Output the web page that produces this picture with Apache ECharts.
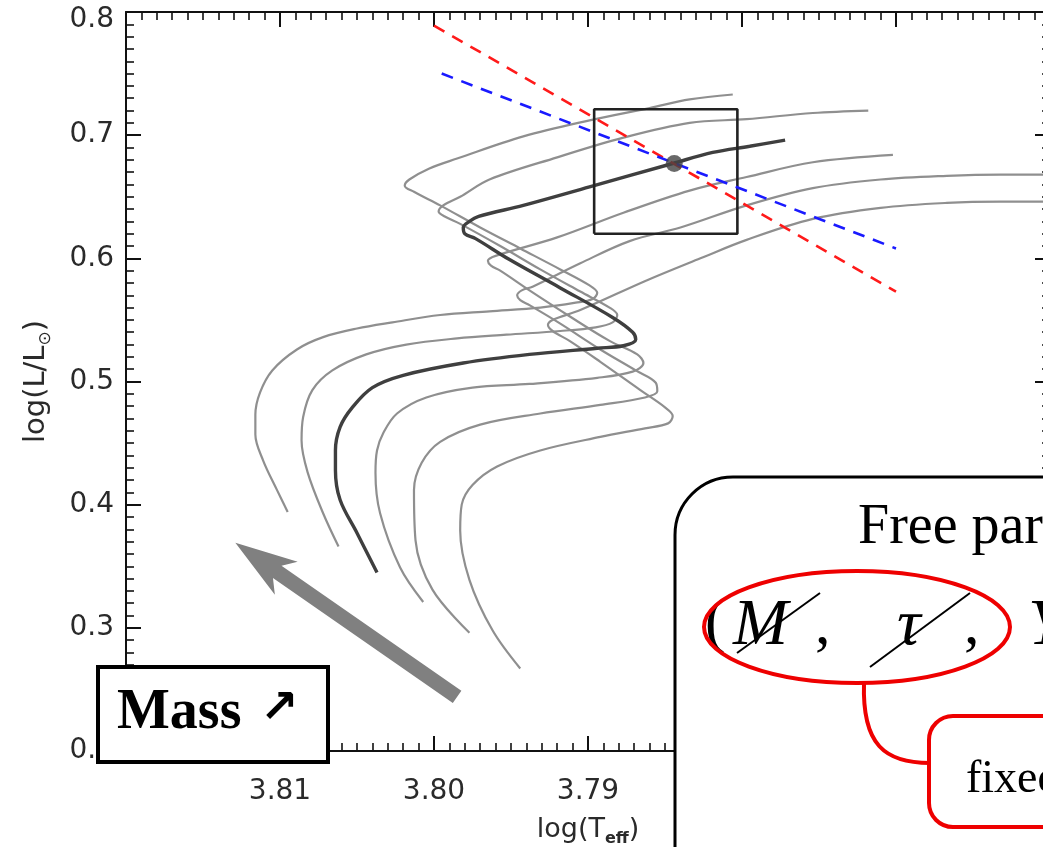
<!DOCTYPE html>
<html>
<head>
<meta charset="utf-8">
<script src="https://cdn.jsdelivr.net/npm/echarts@6/dist/echarts.min.js"></script>
<style>
  html, body { margin: 0; padding: 0; background: #fff; }
  #chart { width: 1043px; height: 847px; }
</style>
</head>
<body>
<div id="chart"></div>
<script>
// Evolutionary tracks in the HR diagram: [log Teff, log L/Lsun]
const track1 = [[3.8095,0.394],[3.8102,0.412],[3.8111,0.436],[3.8116,0.457],[3.8116,0.473],[3.8113,0.491],[3.8105,0.509],[3.8089,0.526],[3.8072,0.536],[3.8050,0.543],[3.8027,0.548],[3.7996,0.554],[3.7964,0.557],[3.7931,0.560],[3.7908,0.564],[3.7897,0.567],[3.7894,0.572],[3.7899,0.578],[3.7918,0.591],[3.7944,0.608],[3.7970,0.625],[3.7996,0.643],[3.8013,0.654],[3.8019,0.659],[3.8016,0.664],[3.8003,0.673],[3.7985,0.681],[3.7942,0.699],[3.7899,0.712],[3.7860,0.722],[3.7834,0.729],[3.7806,0.733]];
const track2 = [[3.8062,0.366],[3.8072,0.393],[3.8082,0.426],[3.8086,0.452],[3.8085,0.471],[3.8079,0.493],[3.8066,0.509],[3.8044,0.522],[3.8018,0.530],[3.7985,0.535],[3.7953,0.538],[3.7918,0.541],[3.7895,0.544],[3.7884,0.548],[3.7881,0.554],[3.7886,0.560],[3.7905,0.573],[3.7931,0.591],[3.7957,0.610],[3.7983,0.628],[3.7993,0.634],[3.7997,0.638],[3.7994,0.643],[3.7983,0.650],[3.7964,0.664],[3.7920,0.682],[3.7877,0.698],[3.7834,0.710],[3.7797,0.713],[3.7754,0.718],[3.7718,0.720]];
const track3 = [[3.8037,0.345],[3.8050,0.377],[3.8061,0.404],[3.8064,0.428],[3.8064,0.444],[3.8061,0.463],[3.8053,0.479],[3.8040,0.495],[3.8020,0.505],[3.7981,0.515],[3.7938,0.522],[3.7894,0.527],[3.7877,0.529],[3.7869,0.534],[3.7871,0.540],[3.7884,0.552],[3.7918,0.576],[3.7951,0.599],[3.7973,0.616],[3.7980,0.620],[3.7981,0.625],[3.7977,0.630],[3.7971,0.634],[3.7942,0.643],[3.7899,0.658],[3.7845,0.677],[3.7819,0.686],[3.7795,0.691],[3.7772,0.696]];
const track4 = [[3.8007,0.321],[3.8022,0.349],[3.8035,0.393],[3.8038,0.426],[3.8037,0.444],[3.8033,0.458],[3.8024,0.474],[3.8005,0.487],[3.7975,0.495],[3.7938,0.498],[3.7894,0.503],[3.7871,0.508],[3.7864,0.515],[3.7868,0.522],[3.7886,0.533],[3.7912,0.553],[3.7938,0.574],[3.7957,0.590],[3.7963,0.594],[3.7965,0.598],[3.7960,0.602],[3.7920,0.617],[3.7877,0.637],[3.7834,0.655],[3.7797,0.666],[3.7754,0.678],[3.7702,0.684]];
const track5 = [[3.7977,0.296],[3.8001,0.331],[3.8012,0.371],[3.8013,0.412],[3.8008,0.434],[3.7996,0.451],[3.7970,0.465],[3.7931,0.474],[3.7892,0.481],[3.7863,0.487],[3.7855,0.492],[3.7856,0.499],[3.7869,0.509],[3.7892,0.526],[3.7918,0.547],[3.7938,0.562],[3.7944,0.566],[3.7946,0.570],[3.7943,0.574],[3.7936,0.577],[3.7905,0.596],[3.7873,0.614],[3.7840,0.625],[3.7797,0.643],[3.7754,0.657],[3.7710,0.664],[3.7667,0.667],[3.7632,0.668],[3.7600,0.668]];
const track6 = [[3.7944,0.267],[3.7962,0.298],[3.7977,0.339],[3.7983,0.379],[3.7982,0.400],[3.7975,0.416],[3.7959,0.431],[3.7931,0.444],[3.7892,0.455],[3.7863,0.462],[3.7848,0.466],[3.7845,0.472],[3.7850,0.479],[3.7866,0.493],[3.7892,0.516],[3.7912,0.533],[3.7923,0.541],[3.7926,0.546],[3.7923,0.550],[3.7905,0.558],[3.7862,0.582],[3.7827,0.600],[3.7797,0.615],[3.7754,0.632],[3.7710,0.641],[3.7667,0.645],[3.7632,0.646],[3.7600,0.646]];

// Observed star and its error box
const starPoint = [[3.7844, 0.677]];
const errorBox = [[3.7896,0.620],[3.7803,0.620],[3.7803,0.721],[3.7896,0.721],[3.7896,0.620]];

// Constraint lines
const redLine = [[3.8000,0.789],[3.7700,0.573]];
const blueLine = [[3.7995,0.750],[3.7700,0.608]];

// Mass-direction arrow: [tail x, tail y, tip x, tip y]
const massArrow = [[3.7985, 0.244, 3.8129, 0.369]];

// Axis ranges
const xRange = [3.76, 3.82];
const yRange = [0.2, 0.8];

const grayTracks = [track1, track2, track4, track5, track6];

const tickFont = '"DejaVu Sans", sans-serif';
const serif = '"Liberation Serif", "DejaVu Serif", serif';
const tickColor = '#2a2a2a';

function baseX(show) {
  return {
    type: 'value', min: xRange[0], max: xRange[1], interval: 0.01, inverse: true,
    axisLine: { show: true, onZero: false, lineStyle: { color: '#111', width: 2 } },
    axisTick: { show: true, inside: true, length: 15, lineStyle: { color: '#111', width: 2 } },
    minorTick: { show: true, splitNumber: 10, length: 8, lineStyle: { color: '#111', width: 1.6 } },
    splitLine: { show: false }, minorSplitLine: { show: false },
    axisLabel: show ? {
      show: true, fontFamily: tickFont, fontSize: 28, color: tickColor, margin: 27,
      showMaxLabel: false, showMinLabel: false, formatter: v => v.toFixed(2)
    } : { show: false }
  };
}
function baseY(show) {
  return {
    type: 'value', min: yRange[0], max: yRange[1], interval: 0.1,
    axisLine: { show: true, onZero: false, lineStyle: { color: '#111', width: 2 } },
    axisTick: { show: true, inside: true, length: 15, lineStyle: { color: '#111', width: 2 } },
    minorTick: { show: true, splitNumber: 10, length: 8, lineStyle: { color: '#111', width: 1.6 } },
    splitLine: { show: false }, minorSplitLine: { show: false },
    axisLabel: show ? {
      show: true, fontFamily: tickFont, fontSize: 28, color: tickColor, margin: 12,
      // the top label sits a little lower so it stays inside the page
      formatter: v => (v >= 0.79 ? '{top|' + v.toFixed(1) + '}' : v.toFixed(1)),
      rich: { top: { fontFamily: tickFont, fontSize: 28, color: tickColor, padding: [16, 0, 0, 0] } }
    } : { show: false }
  };
}

const xBottom = Object.assign(baseX(true), {
  position: 'bottom',
  name: '{a|log(T}{s|eff}{a|)}', nameLocation: 'middle', nameGap: 62,
  nameTextStyle: {
    rich: {
      a: { fontFamily: tickFont, fontSize: 27, color: tickColor, lineHeight: 34 },
      s: { fontFamily: tickFont, fontSize: 16, fontWeight: 'bold', color: tickColor, lineHeight: 34, verticalAlign: 'bottom' }
    }
  }
});
const xTop = Object.assign(baseX(false), { position: 'top' });
const yLeft = Object.assign(baseY(true), {
  position: 'left',
  name: '{a|log(L/L}{s|⊙}{a|)}', nameLocation: 'middle', nameGap: 72,
  nameTextStyle: {
    rich: {
      a: { fontFamily: tickFont, fontSize: 29, color: tickColor, lineHeight: 36 },
      s: { fontFamily: tickFont, fontSize: 17, color: tickColor, lineHeight: 36, verticalAlign: 'bottom' }
    }
  }
});
const yRight = Object.assign(baseY(false), { position: 'right' });

function renderArrow(params, api) {
  const a = api.coord([api.value(0), api.value(1)]);
  const b = api.coord([api.value(2), api.value(3)]);
  const dx = b[0] - a[0], dy = b[1] - a[1];
  const L = Math.hypot(dx, dy);
  const ux = dx / L, uy = dy / L, nx = -uy, ny = ux;
  const sw = 7.5, hw = 20, hl = 62, notch = 11;
  const P = (t, s) => [b[0] - ux * t + nx * s, b[1] - uy * t + ny * s];
  return {
    type: 'polygon',
    shape: { points: [
      [a[0] + nx * sw, a[1] + ny * sw], P(hl - notch, sw), P(hl, hw), [b[0], b[1]],
      P(hl, -hw), P(hl - notch, -sw), [a[0] - nx * sw, a[1] - ny * sw]
    ] },
    style: { fill: '#808080' }
  };
}

const series = [];
grayTracks.forEach((t, i) => series.push({
  name: 'track' + i, type: 'line', data: t, showSymbol: false, smooth: 0.35,
  lineStyle: { color: '#8f8f8f', width: 2.2 }, z: 3, silent: true
}));
series.push({
  name: 'track-best', type: 'line', data: track3, showSymbol: false, smooth: 0.35,
  lineStyle: { color: '#3f3f3f', width: 3.4 }, z: 4, silent: true
});
series.push({
  name: 'box', type: 'line', data: errorBox, showSymbol: false,
  lineStyle: { color: '#222', width: 2.6 }, z: 5, silent: true
});
series.push({
  name: 'red', type: 'line', data: redLine, showSymbol: false,
  lineStyle: { color: '#ff1a1a', width: 2.6, type: [12, 9] }, z: 6, silent: true
});
series.push({
  name: 'blue', type: 'line', data: blueLine, showSymbol: false,
  lineStyle: { color: '#1a1aff', width: 2.6, type: [12, 9] }, z: 6, silent: true
});
series.push({
  name: 'star', type: 'scatter', data: starPoint, symbolSize: 17,
  itemStyle: { color: '#444' }, z: 7, silent: true
});
series.push({
  name: 'massArrow', type: 'custom', data: massArrow, renderItem: renderArrow,
  encode: { x: [0, 2], y: [1, 3] }, z: 8, silent: true
});

const RED = '#ee0000';
const graphic = [
  // Mass label box
  { type: 'rect', z: 100, shape: { x: 98, y: 667, width: 230, height: 95 },
    style: { fill: '#fff', stroke: '#000', lineWidth: 4 } },
  { type: 'text', z: 101, style: { x: 117, y: 714, text: 'Mass', font: 'bold 56px ' + serif, fill: '#000', textVerticalAlign: 'middle' } },
  { type: 'text', z: 101, style: { x: 260, y: 710, text: '↗', font: 'bold 46px "DejaVu Sans"', fill: '#000', textVerticalAlign: 'middle' } },

  // Free-parameters panel
  { type: 'rect', z: 100, shape: { x: 675, y: 477, width: 520, height: 500, r: 58 },
    style: { fill: '#fff', stroke: '#000', lineWidth: 3 } },
  { type: 'text', z: 101, style: { x: 858, y: 528, text: 'Free parameters', font: '56px ' + serif, fill: '#000', textVerticalAlign: 'middle' } },
  { type: 'text', z: 101, style: { x: 705, y: 625, text: '(', font: '62px ' + serif, fill: '#000', textVerticalAlign: 'middle' } },
  { type: 'text', z: 101, style: { x: 733, y: 627, text: 'M', font: 'italic 66px ' + serif, fill: '#000', textVerticalAlign: 'middle' } },
  { type: 'text', z: 101, style: { x: 815, y: 627, text: ',', font: '62px ' + serif, fill: '#000', textVerticalAlign: 'middle' } },
  { type: 'text', z: 101, style: { x: 897, y: 627, text: 'τ', font: 'italic 66px ' + serif, fill: '#000', textVerticalAlign: 'middle' } },
  { type: 'text', z: 101, style: { x: 964, y: 627, text: ',', font: '62px ' + serif, fill: '#000', textVerticalAlign: 'middle' } },
  { type: 'text', z: 101, style: { x: 1028, y: 627, text: 'Y', font: 'italic 66px ' + serif, fill: '#000', textVerticalAlign: 'middle' } },
  { type: 'line', z: 102, shape: { x1: 737, y1: 653, x2: 820, y2: 593 }, style: { stroke: '#000', lineWidth: 2 } },
  { type: 'line', z: 102, shape: { x1: 870, y1: 667, x2: 970, y2: 593 }, style: { stroke: '#000', lineWidth: 2 } },
  { type: 'ellipse', z: 103, shape: { cx: 857, cy: 627, rx: 153, ry: 56 },
    style: { fill: 'none', stroke: RED, lineWidth: 4 } },
  { type: 'bezierCurve', z: 103, shape: { x1: 864, y1: 683, cpx1: 862, cpy1: 745, cpx2: 885, cpy2: 763, x2: 930, y2: 763 },
    style: { fill: 'none', stroke: RED, lineWidth: 4 } },
  { type: 'rect', z: 103, shape: { x: 929, y: 716, width: 220, height: 111, r: 24 },
    style: { fill: '#fff', stroke: RED, lineWidth: 4 } },
  { type: 'text', z: 104, style: { x: 966, y: 780, text: 'fixed', font: '46px ' + serif, fill: '#000', textVerticalAlign: 'middle' } }
];

const chart = echarts.init(document.getElementById('chart'), null, { renderer: 'canvas' });
chart.setOption({
  animation: false,
  backgroundColor: '#fff',
  grid: { left: 126, width: 924, top: 12, height: 739, containLabel: false, outerBoundsMode: 'none' },
  xAxis: [xBottom, xTop],
  yAxis: [yLeft, yRight],
  series: series,
  graphic: graphic
});
</script>
</body>
</html>
